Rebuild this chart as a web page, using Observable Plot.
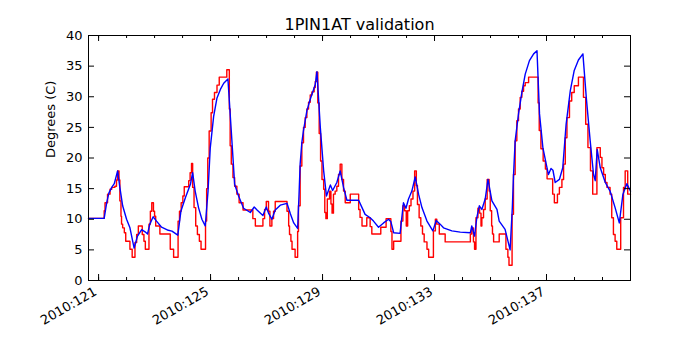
<!DOCTYPE html>
<html><head><meta charset="utf-8">
<script src="https://cdn.jsdelivr.net/npm/d3@7"></script>
<script src="https://cdn.jsdelivr.net/npm/@observablehq/plot@0.6"></script>
<style>body{margin:0;background:#fff}#chart{width:700px;height:350px}</style>
</head><body><div id="chart"></div>
<script>
const title = "1PIN1AT validation";
const yLabel = "Degrees (C)";
const yearPrefix = "2010:";
const xMajorTicks = [121, 125, 129, 133, 137];
const xMinorTicks = [121,122,123,124,125,126,127,128,129,130,131,132,133,134,135,136,137,138,139];
const yTicks = [0, 5, 10, 15, 20, 25, 30, 35, 40];
const xDomain = [120.64, 140.0];
const yDomain = [0, 40];

// observed temperature (red, stepped): [day of year, degrees C]
const observed = [
[120.64,10.15],[121.20,11.4],[121.23,12.7],[121.32,14.1],[121.41,14.9],[121.47,15.2],[121.58,15.4],[121.64,16.4],[121.68,17.9],[121.73,16.4],
[121.76,13.0],[121.80,10.5],[121.82,9.2],[121.86,8.6],[121.92,7.8],[121.97,6.4],[122.12,5.1],[122.20,3.8],[122.30,6.2],[122.36,7.5],
[122.42,8.9],[122.56,7.5],[122.62,6.4],[122.67,5.1],[122.80,9.2],[122.85,11.3],[122.90,12.7],[122.96,11.3],[123.00,10.5],[123.04,8.9],
[123.19,7.6],[123.56,5.1],[123.68,3.8],[123.84,9.7],[123.89,11.3],[123.95,12.7],[124.01,13.8],[124.06,15.3],[124.22,16.3],[124.27,17.6],
[124.32,19.1],[124.36,15.2],[124.41,11.9],[124.47,8.9],[124.53,7.5],[124.60,6.4],[124.66,5.1],[124.82,9.7],[124.86,15.0],[124.90,20.0],
[124.95,24.4],[125.02,27.4],[125.07,29.6],[125.14,30.7],[125.23,31.9],[125.31,33.2],[125.58,34.4],[125.67,28.0],[125.70,22.0],[125.74,19.0],
[125.80,16.8],[125.86,15.4],[125.94,14.1],[126.02,12.7],[126.16,11.5],[126.51,10.1],[126.60,8.9],[126.87,10.1],[126.93,11.6],[126.99,12.9],
[127.07,11.3],[127.12,8.9],[127.19,10.1],[127.25,11.3],[127.31,12.9],[127.73,11.3],[127.79,8.9],[127.82,7.5],[127.87,6.4],[127.91,5.1],
[128.02,3.8],[128.11,8.0],[128.14,12.2],[128.20,18.7],[128.26,22.5],[128.32,25.0],[128.38,26.6],[128.44,28.0],[128.50,29.1],[128.56,30.3],
[128.62,30.8],[128.70,31.5],[128.74,32.5],[128.78,34.0],[128.83,29.0],[128.88,24.0],[128.93,19.5],[128.98,16.5],[129.04,14.9],[129.08,11.1],
[129.12,10.1],[129.17,13.3],[129.25,14.6],[129.30,12.5],[129.34,11.0],[129.39,14.1],[129.45,14.6],[129.51,15.4],[129.57,17.3],[129.63,19.0],
[129.69,16.5],[129.75,14.6],[129.81,12.7],[129.99,14.1],[130.29,11.6],[130.34,10.3],[130.41,8.9],[130.58,10.25],[130.70,8.8],[130.76,7.6],
[131.08,8.7],[131.27,10.1],[131.44,8.0],[131.48,5.1],[131.54,6.4],[131.80,9.7],[131.87,12.2],[131.93,11.4],[131.99,8.9],[132.04,11.4],
[132.10,12.2],[132.16,13.3],[132.23,14.6],[132.29,17.9],[132.35,15.5],[132.39,12.4],[132.45,10.25],[132.51,8.9],[132.57,7.6],[132.63,6.3],
[132.73,5.1],[132.79,3.8],[132.96,8.1],[133.03,10.0],[133.08,9.2],[133.17,7.6],[133.38,6.3],[134.28,7.6],[134.33,8.6],[134.39,6.3],
[134.43,5.1],[134.48,10.25],[134.55,11.8],[134.61,11.0],[134.66,8.9],[134.69,10.25],[134.75,11.6],[134.81,13.3],[134.88,16.5],[134.95,14.6],
[134.99,11.4],[135.04,8.9],[135.07,7.6],[135.11,6.3],[135.31,7.6],[135.55,5.1],[135.62,3.8],[135.66,2.5],[135.77,10.8],[135.82,17.3],
[135.88,22.8],[135.94,26.1],[136.00,28.0],[136.06,29.9],[136.12,30.9],[136.18,31.8],[136.24,32.3],[136.36,33.2],[136.70,29.0],[136.74,24.5],
[136.80,21.5],[136.88,19.5],[136.96,18.2],[137.02,16.6],[137.22,14.1],[137.28,12.7],[137.39,14.1],[137.46,15.2],[137.55,16.5],[137.61,19.0],
[137.67,23.3],[137.73,26.6],[137.82,29.3],[137.90,30.7],[137.99,31.8],[138.14,33.2],[138.32,29.9],[138.40,25.5],[138.48,21.7],[138.57,17.9],
[138.65,14.1],[138.80,21.7],[138.92,20.1],[138.98,18.4],[139.04,17.3],[139.10,16.0],[139.16,15.2],[139.27,14.1],[139.33,10.25],[139.39,7.5],
[139.45,6.4],[139.51,5.1],[139.65,10.25],[139.75,15.2],[139.81,17.9],[139.90,14.1],[140.00,14.1]
];

// model temperature (blue): [day of year, degrees C]
const modelled = [
[120.64,10.15],[121.20,10.15],[121.29,12.7],[121.37,14.3],[121.47,15.2],[121.56,15.8],[121.68,17.9],[121.76,15.2],[121.86,12.2],[122.00,10.0],
[122.12,8.6],[122.27,5.3],[122.39,7.25],[122.54,8.3],[122.66,7.95],[122.75,7.6],[122.83,9.2],[122.95,10.4],[123.07,9.7],[123.25,8.7],
[123.49,8.2],[123.62,8.07],[123.83,7.4],[123.94,11.3],[124.10,13.5],[124.28,15.7],[124.36,17.6],[124.45,14.6],[124.57,11.9],[124.69,10.0],
[124.81,8.9],[124.91,14.6],[124.99,21.7],[125.11,26.8],[125.23,29.8],[125.35,31.2],[125.47,32.2],[125.62,32.9],[125.74,24.4],[125.86,15.7],
[126.00,13.8],[126.18,11.8],[126.42,11.1],[126.56,12.0],[126.66,11.5],[126.87,10.6],[126.99,12.0],[127.07,11.0],[127.19,10.0],[127.31,11.5],
[127.49,12.3],[127.73,12.6],[127.85,10.9],[127.97,9.4],[128.11,8.5],[128.16,14.0],[128.20,19.0],[128.26,22.5],[128.32,24.5],[128.44,27.7],
[128.56,29.6],[128.68,31.2],[128.74,32.0],[128.80,34.1],[128.92,25.0],[129.04,17.9],[129.14,13.8],[129.28,15.6],[129.36,14.7],[129.51,16.0],
[129.63,17.9],[129.75,15.2],[129.87,13.1],[130.29,13.1],[130.41,11.9],[130.52,10.8],[130.70,10.25],[130.82,9.7],[131.00,8.7],[131.18,9.4],
[131.36,10.0],[131.44,9.6],[131.54,7.8],[131.77,7.7],[131.89,12.7],[131.98,11.8],[132.07,13.3],[132.19,14.6],[132.31,16.9],[132.43,14.1],
[132.55,11.9],[132.73,9.7],[132.94,8.1],[133.06,9.8],[133.20,9.2],[133.32,8.6],[133.62,8.1],[133.92,7.9],[134.28,7.8],[134.33,8.9],
[134.43,7.25],[134.51,10.25],[134.60,12.2],[134.69,11.6],[134.81,13.3],[134.91,16.5],[135.05,13.0],[135.23,11.6],[135.31,9.7],[135.52,8.35],
[135.70,5.0],[135.78,12.0],[135.82,17.0],[135.88,22.8],[136.00,27.2],[136.12,30.7],[136.24,33.7],[136.39,35.9],[136.54,37.0],[136.66,37.5],
[136.75,27.2],[136.87,21.7],[136.99,19.0],[137.07,17.3],[137.16,18.3],[137.23,18.0],[137.31,16.0],[137.46,16.5],[137.58,18.4],[137.70,25.5],
[137.85,31.0],[137.99,34.3],[138.14,36.0],[138.30,37.0],[138.42,29.9],[138.56,22.8],[138.68,17.3],[138.74,16.3],[138.81,21.4],[138.92,18.4],
[139.10,16.0],[139.27,14.6],[139.45,11.9],[139.60,9.4],[139.73,14.1],[139.87,15.8],[140.00,14.6]
];

const obs = observed.map(([day, temp]) => ({day, temp}));
const mod = modelled.map(([day, temp]) => ({day, temp}));

const W = 700, H = 350, mL = 88, mR = 70, mT = 35, mB = 70;
const yPerPx = (yDomain[1] - yDomain[0]) / (H - mT - mB);
const xPerPx = (xDomain[1] - xDomain[0]) / (W - mL - mR);
const major = 6, minor = 3;

const chart = Plot.plot({
  width: W, height: H,
  marginLeft: mL, marginRight: mR, marginTop: mT, marginBottom: mB,
  style: {fontFamily: "DejaVu Sans", fontSize: "13px", background: "white", color: "black"},
  x: {domain: xDomain},
  y: {domain: yDomain},
  marks: [
    Plot.line(obs, {x: "day", y: "temp", curve: "step-after", stroke: "red", strokeWidth: 1.4}),
    Plot.line(mod, {x: "day", y: "temp", stroke: "blue", strokeWidth: 1.4}),
    // inward tick marks on all four sides
    Plot.ruleX(xMajorTicks, {x: d => d, y1: () => yDomain[0], y2: () => yDomain[0] + major * yPerPx, stroke: "black"}),
    Plot.ruleX(xMajorTicks, {x: d => d, y1: () => yDomain[1], y2: () => yDomain[1] - major * yPerPx, stroke: "black"}),
    Plot.ruleX(xMinorTicks, {x: d => d, y1: () => yDomain[0], y2: () => yDomain[0] + minor * yPerPx, stroke: "black"}),
    Plot.ruleX(xMinorTicks, {x: d => d, y1: () => yDomain[1], y2: () => yDomain[1] - minor * yPerPx, stroke: "black"}),
    Plot.ruleY(yTicks, {y: d => d, x1: () => xDomain[0], x2: () => xDomain[0] + major * xPerPx, stroke: "black"}),
    Plot.ruleY(yTicks, {y: d => d, x1: () => xDomain[1], x2: () => xDomain[1] - major * xPerPx, stroke: "black"}),
    Plot.frame({stroke: "black", strokeWidth: 1}),
    Plot.axisX(xMajorTicks, {anchor: "bottom", tickSize: 0, tickPadding: 10, tickRotate: -30, dx: -3,
      tickFormat: d => yearPrefix + d, fontSize: 13, label: null}),
    Plot.axisY(yTicks, {anchor: "left", tickSize: 0, tickPadding: 6, fontSize: 13, label: null}),
    Plot.text([title], {text: d => d, frameAnchor: "top", dy: -6, lineAnchor: "bottom", fontSize: 16}),
    Plot.text([yLabel], {text: d => d, frameAnchor: "left", rotate: -90, dx: -38, fontSize: 13})
  ]
});
document.getElementById("chart").append(chart);
</script>
</body></html>
